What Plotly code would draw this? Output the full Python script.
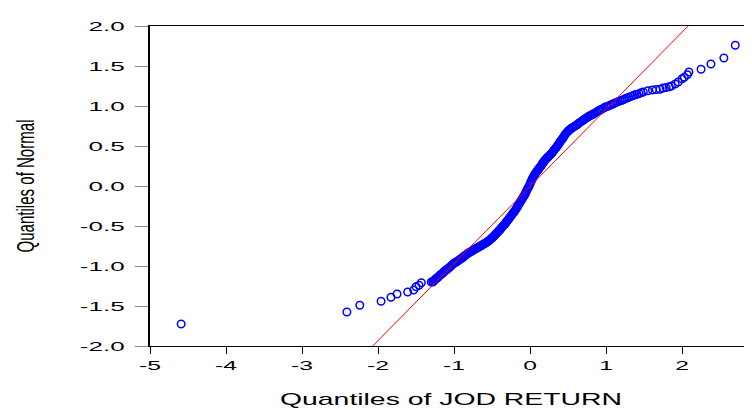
import plotly.graph_objects as go

tail_low_x = [-4.59, -2.41, -2.24, -1.96, -1.83, -1.75, -1.61, -1.53, -1.50, -1.46, -1.43, -1.30]
tail_low_y = [-1.725, -1.575, -1.49, -1.44, -1.39, -1.35, -1.325, -1.30, -1.26, -1.24, -1.21, -1.20]

core_x = [
    -1.28, -1.27, -1.26, -1.25, -1.24, -1.225, -1.21, -1.195, -1.18, -1.165, -1.15, -1.135,
    -1.12, -1.105, -1.09, -1.07, -1.05, -1.035, -1.02, -1.005, -0.99, -0.98, -0.97, -0.955,
    -0.94, -0.925, -0.91, -0.895, -0.88, -0.865, -0.85, -0.835, -0.82, -0.805, -0.79, -0.775,
    -0.76, -0.745, -0.73, -0.715, -0.70, -0.685, -0.67, -0.655, -0.64, -0.625, -0.61, -0.595,
    -0.58, -0.565, -0.55, -0.54, -0.53, -0.515, -0.50, -0.49, -0.48, -0.47, -0.46, -0.45,
    -0.44, -0.43, -0.42, -0.41, -0.40, -0.39, -0.38, -0.37, -0.355, -0.345, -0.33, -0.32,
    -0.31, -0.30, -0.285, -0.275, -0.265, -0.25, -0.24, -0.225, -0.21, -0.20, -0.19, -0.18,
    -0.17, -0.16, -0.15, -0.14, -0.13, -0.12, -0.105, -0.095, -0.08, -0.07, -0.06, -0.05,
    -0.04, -0.03, -0.02, -0.01, 0.0, 0.01, 0.02, 0.03, 0.04, 0.05, 0.06, 0.07,
    0.085, 0.095, 0.105, 0.115, 0.125, 0.14, 0.15, 0.16, 0.17, 0.18, 0.19, 0.20,
    0.215, 0.225, 0.24, 0.255, 0.27, 0.285, 0.30, 0.31, 0.32, 0.335, 0.345, 0.36,
    0.37, 0.38, 0.39, 0.40, 0.41, 0.42, 0.435, 0.445, 0.46, 0.475, 0.49, 0.505,
    0.52, 0.535, 0.55, 0.565, 0.585, 0.60, 0.62, 0.635, 0.655, 0.68, 0.70, 0.715,
    0.73, 0.75, 0.765, 0.78, 0.80, 0.815, 0.83, 0.85, 0.875, 0.90, 0.92, 0.94,
    0.96, 0.98, 1.00, 1.02, 1.045, 1.065, 1.09, 1.11, 1.135, 1.16, 1.185, 1.21,
    1.23, 1.25, 1.275, 1.30, 1.33, 1.355, 1.38, 1.41, 1.435, 1.46, 1.49,
]
core_y = [
    -1.20, -1.19, -1.18, -1.17, -1.16, -1.15, -1.14, -1.125, -1.11, -1.10, -1.09, -1.075,
    -1.06, -1.05, -1.04, -1.025, -1.01, -0.995, -0.98, -0.97, -0.96, -0.955, -0.95, -0.94,
    -0.93, -0.92, -0.91, -0.90, -0.89, -0.875, -0.865, -0.855, -0.845, -0.835, -0.825, -0.82,
    -0.81, -0.80, -0.79, -0.785, -0.775, -0.77, -0.76, -0.75, -0.745, -0.735, -0.725, -0.72,
    -0.71, -0.70, -0.69, -0.68, -0.675, -0.66, -0.65, -0.64, -0.63, -0.62, -0.61, -0.60,
    -0.59, -0.58, -0.57, -0.56, -0.55, -0.54, -0.525, -0.515, -0.50, -0.49, -0.475, -0.46,
    -0.45, -0.435, -0.42, -0.405, -0.39, -0.375, -0.36, -0.34, -0.325, -0.31, -0.295, -0.28,
    -0.265, -0.25, -0.235, -0.22, -0.20, -0.185, -0.165, -0.145, -0.125, -0.11, -0.09, -0.07,
    -0.05, -0.03, -0.015, 0.005, 0.025, 0.05, 0.07, 0.09, 0.11, 0.125, 0.14, 0.16,
    0.175, 0.19, 0.20, 0.215, 0.23, 0.245, 0.26, 0.275, 0.29, 0.30, 0.315, 0.33,
    0.34, 0.355, 0.365, 0.38, 0.395, 0.41, 0.425, 0.44, 0.455, 0.47, 0.485, 0.50,
    0.515, 0.53, 0.545, 0.56, 0.57, 0.585, 0.60, 0.62, 0.64, 0.66, 0.675, 0.69,
    0.70, 0.715, 0.725, 0.735, 0.745, 0.755, 0.765, 0.78, 0.795, 0.81, 0.825, 0.835,
    0.845, 0.855, 0.865, 0.875, 0.885, 0.89, 0.90, 0.91, 0.925, 0.94, 0.95, 0.96,
    0.97, 0.98, 0.99, 0.995, 1.005, 1.015, 1.025, 1.035, 1.045, 1.055, 1.065, 1.07,
    1.08, 1.09, 1.10, 1.11, 1.12, 1.13, 1.14, 1.145, 1.155, 1.165, 1.175,
]

tail_high_x = [1.55, 1.61, 1.66, 1.71, 1.75, 1.79, 1.83, 1.86, 1.91, 1.95, 2.00, 2.03,
               2.07, 2.09, 2.25, 2.38, 2.55, 2.70]
tail_high_y = [1.19, 1.20, 1.205, 1.21, 1.225, 1.23, 1.24, 1.25, 1.275, 1.30, 1.34, 1.36,
               1.39, 1.425, 1.46, 1.525, 1.60, 1.76]

jod_quantiles = tail_low_x + core_x + tail_high_x
normal_quantiles = tail_low_y + core_y + tail_high_y

# Reference line, end points where it meets the frame
ref_line_x = [-2.07, 2.08]
ref_line_y = [-2.0, 2.0]

x_ticks = [-5, -4, -3, -2, -1, 0, 1, 2, 3]
y_ticks = [-2.0, -1.5, -1.0, -0.5, 0.0, 0.5, 1.0, 1.5, 2.0]
y_tick_text = ["-2.0", "-1.5", "-1.0", "-0.5", "0.0", "0.5", "1.0", "1.5", "2.0"]

fig = go.Figure()
fig.add_trace(go.Scatter(
    x=jod_quantiles, y=normal_quantiles, mode="markers",
    marker=dict(symbol="circle-open", size=7.5, color="#0000FF", line=dict(width=1.5, color="#0000FF")),
    showlegend=False, cliponaxis=False,
))
fig.add_trace(go.Scatter(
    x=ref_line_x, y=ref_line_y, mode="lines",
    line=dict(color="#FF0000", width=1), showlegend=False,
))

tick_font = dict(family="Liberation Sans, Arial", size=13, color="black")
fig.update_layout(
    width=744, height=402,
    margin=dict(l=142, r=0, t=18, b=64, autoexpand=False),
    paper_bgcolor="white", plot_bgcolor="white",
    xaxis=dict(
        range=[-5, 2.92], tickvals=x_ticks, ticktext=[str(v) for v in x_ticks],
        showgrid=False, zeroline=False, automargin=False,
        showline=True, linecolor="black", linewidth=1, mirror=True,
        ticks="outside", ticklen=7, tickcolor="black", tickwidth=1,
        tickfont=tick_font,
        title=dict(text="Quantiles of JOD RETURN", standoff=21,
                   font=dict(family="Liberation Sans, Arial", size=17, color="black")),
    ),
    yaxis=dict(
        range=[-2, 2], tickvals=y_ticks, ticktext=y_tick_text,
        showgrid=False, zeroline=False, automargin=False,
        showline=True, linecolor="black", linewidth=1.5, mirror=False,
        ticks="outside", ticklen=13, tickcolor="#888888", tickwidth=1,
        tickfont=tick_font, ticklabelstandoff=8,
        title=dict(text="Quantiles of Normal", standoff=61,
                   font=dict(family="Liberation Sans Narrow, Liberation Sans, Arial", size=23, color="black")),
    ),
)

post_js = """
var gd = document.getElementById('{plot_id}');
function stretchText(){
  var specs = [['.xtick text', 1.9, 0], ['.ytick text', 2.0, 0], ['.xtitle', 0, 342], ['.ytitle', 0, 133]];
  specs.forEach(function(s){
    gd.querySelectorAll(s[0]).forEach(function(t){
      t.removeAttribute('textLength');
      var w = t.getComputedTextLength();
      var target = s[2] > 0 ? s[2] : w * s[1];
      t.setAttribute('textLength', target.toFixed(1));
      t.setAttribute('lengthAdjust', 'spacingAndGlyphs');
    });
  });
}
stretchText();
gd.on('plotly_afterplot', stretchText);
"""

fig.write_html("out.html", post_script=post_js)
